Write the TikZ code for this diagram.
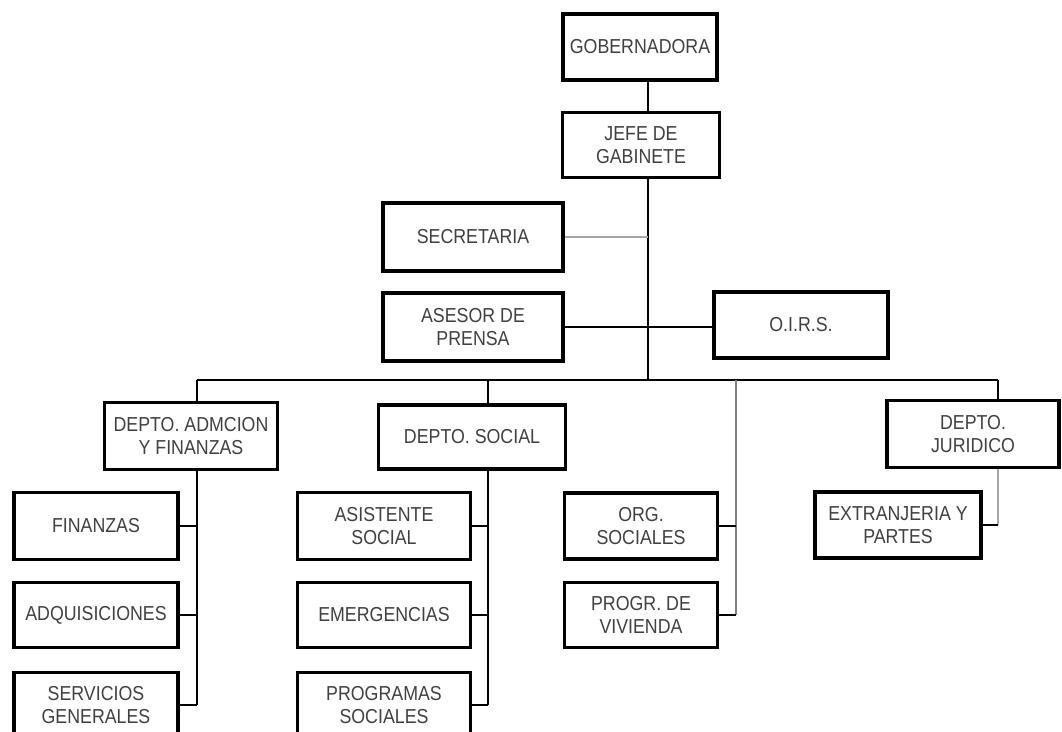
\documentclass[tikz,border=0pt]{standalone}
\usepackage{fontspec}
\setmainfont{Liberation Sans}[FakeStretch=0.88]
\usepackage{tikz}
\usetikzlibrary{arrows}
\usetikzlibrary{positioning}

\begin{document}
\begin{tikzpicture}[x = 0.02cm, y = -0.02cm,
		unit/.style = {draw, line width = 0.07cm, align = center, inner sep = 0pt,
			minimum height = 1.32cm, text = black!75,
			font = \fontsize{11.5}{13}\selectfont},
		conn/.style = {line width = 0.03cm},
		faint/.style = {line width = 0.03cm, black!35}]
			%\draw[help lines] (0,0) grid (1062,731);
			\useasboundingbox (0, 0) rectangle (1062, 731);
			
			\node[unit, minimum width = 3.08cm] (gob) at (640, 47) {GOBERNADORA};
			\node[unit, minimum width = 3.14cm, minimum height = 1.3cm] (jefe) at (641, 145) {JEFE DE\\GABINETE};
			\node[unit, minimum width = 3.6cm, minimum height = 1.36cm] (secr) at (473, 237) {SECRETARIA};
			\node[unit, minimum width = 3.6cm, minimum height = 1.36cm] (asesor) at (473, 327) {ASESOR DE\\PRENSA};
			\node[unit, minimum width = 3.48cm] (oirs) at (801, 325) {O.I.R.S.};
			
			\coordinate (bus) at (648, 380);
			\coordinate (busL) at (197, 380);
			\coordinate (busR) at (998, 380);
			
			\node[unit, minimum width = 3.46cm, minimum height = 1.34cm] (admcion) at (191, 436) {DEPTO. ADMCION\\Y FINANZAS};
			\node[unit, minimum width = 3.74cm, minimum height = 1.28cm] (social) at (472, 437) {DEPTO. SOCIAL};
			\node[unit, minimum width = 3.44cm, minimum height = 1.34cm] (juridico) at (973, 434) {DEPTO.\\JURIDICO};
			
			\node[unit, minimum width = 3.28cm, minimum height = 1.34cm] (finanzas) at (96, 526) {FINANZAS};
			\node[unit, minimum width = 3.28cm, minimum height = 1.3cm] (adquis) at (96, 615) {ADQUISICIONES};
			\node[unit, minimum width = 3.28cm, minimum height = 1.3cm] (servicios) at (96, 705) {SERVICIOS\\GENERALES};
			
			\node[unit, minimum width = 3.46cm, minimum height = 1.34cm] (asist) at (384, 526) {ASISTENTE\\SOCIAL};
			\node[unit, minimum width = 3.46cm, minimum height = 1.3cm] (emerg) at (384, 615) {EMERGENCIAS};
			\node[unit, minimum width = 3.46cm, minimum height = 1.3cm] (progsoc) at (384, 705) {PROGRAMAS\\SOCIALES};
			
			\node[unit, minimum width = 3.06cm] (org) at (641, 526) {ORG.\\SOCIALES};
			\node[unit, minimum width = 3.06cm, minimum height = 1.3cm] (vivienda) at (641, 615) {PROGR. DE\\VIVIENDA};
			
			\node[unit, minimum width = 3.32cm] (extranj) at (898, 525) {EXTRANJERIA Y\\PARTES};
			
			% trunk
			\draw[conn] (gob.south -| bus) -- (jefe.north -| bus);
			\draw[conn] (jefe.south -| bus) -- (bus);
			\draw[faint] (secr.east) -- (secr.east -| bus);
			\draw[conn] (asesor.east) -- (asesor.east -| oirs.west);
			
			% bus and drops
			\coordinate (spA) at (197, 705);
			\coordinate (spS) at (488, 705);
			\coordinate (spO) at (736, 615);
			\coordinate (spJ) at (998, 525);
			\draw[conn] (busL) -- (busR);
			\draw[conn] (busL) -- (admcion.north -| busL);
			\draw[conn] (spS |- busL) -- (social.north -| spS);
			\draw[faint, black!50] (spO |- busL) -- (spO);
			\draw[conn] (busR) -- (juridico.north -| busR);
			
			\draw[conn] (admcion.south -| spA) -- (spA);
			\foreach \n in {finanzas, adquis, servicios}
				\draw[conn] (\n.east) -- (\n.east -| spA);
			
			\draw[conn] (social.south -| spS) -- (spS);
			\foreach \n in {asist, emerg, progsoc}
				\draw[conn] (\n.east) -- (\n.east -| spS);
			
			\foreach \n in {org, vivienda}
				\draw[conn] (\n.east) -- (\n.east -| spO);
			
			\draw[faint] (juridico.south -| spJ) -- (spJ);
			\draw[conn] (extranj.east) -- (spJ);
		\end{tikzpicture}
\end{document}
